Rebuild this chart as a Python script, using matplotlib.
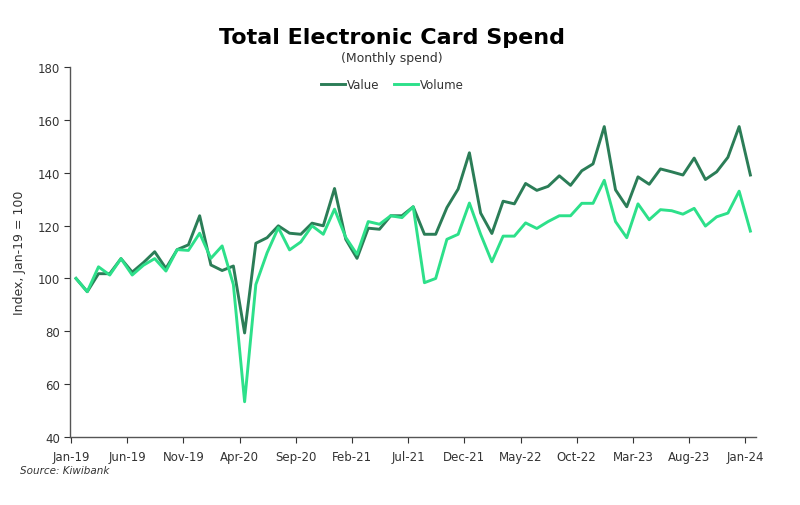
import matplotlib
matplotlib.use('Agg')
import matplotlib.pyplot as plt
import numpy as np

# monthly index, Jan-19 = 100
value = [100, 95, 101.8, 101.8, 107.5, 102.4, 106, 110.1, 103.8, 110.9,
         112.7, 123.7, 105.1, 103, 104.7, 79.4, 113.3, 115.4, 119.9, 117.1,
         116.7, 120.9, 119.9, 134, 114.8, 107.6, 119, 118.6, 123.7, 123.7,
         127.1, 116.7, 116.7, 126.8, 133.8, 147.5, 124.7, 117, 129.2, 128.2,
         135.9, 133.3, 134.8, 138.8, 135.2, 140.7, 143.3, 157.4, 133.5, 127.1,
         138.4, 135.6, 141.4, 140.3, 139.1, 145.5, 137.4, 140.3, 145.8, 157.4,
         139.1]
volume = [100, 95, 104.4, 101.3, 107.5, 101.3, 105, 107.5, 102.8, 110.9,
          110.6, 117.1, 107.6, 112.3, 97.7, 53.4, 97.7, 109.7, 119.2, 110.8,
          113.8, 119.9, 116.7, 126.2, 115.5, 109.1, 121.5, 120.5, 123.7, 123,
          127.1, 98.4, 100, 114.8, 116.7, 128.5, 116.7, 106.3, 116, 116,
          121, 118.9, 121.5, 123.7, 123.7, 128.4, 128.4, 137.1, 121.5, 115.4,
          128.2, 122.2, 126, 125.6, 124.3, 126.5, 119.8, 123.3, 124.7, 133,
          117.9]
tick_labels = ['Jan-19', 'Jun-19', 'Nov-19', 'Apr-20', 'Sep-20', 'Feb-21', 'Jul-21',
               'Dec-21', 'May-22', 'Oct-22', 'Mar-23', 'Aug-23', 'Jan-24']

x = np.arange(len(value))

fig = plt.figure(figsize=(8, 5.06), dpi=100)
ax = fig.add_axes([0.088, 0.134, 0.857, 0.732])

ax.plot(x, value, color='#2b7d57', lw=2.1, label='Value')
ax.plot(x, volume, color='#2de08a', lw=2.1, label='Volume')

ax.set_xlim(-0.5, 60.5)
ax.set_ylim(40, 180)
ax.set_yticks(range(40, 181, 20))
ax.set_xticks(np.arange(0, 61, 5) - 0.45)
ax.set_xticklabels(tick_labels)

for s in ['top', 'right']:
    ax.spines[s].set_visible(False)
for s in ['left', 'bottom']:
    ax.spines[s].set_color('#555555')
    ax.spines[s].set_linewidth(1.0)
ax.tick_params(axis='both', labelsize=8.5, colors='#333333', length=4, width=0.8, direction='out')
ax.tick_params(axis='x', pad=5)
ax.set_ylabel('Index, Jan-19 = 100', fontsize=9, color='#333333', labelpad=8)

fig.text(0.49, 0.925, 'Total Electronic Card Spend', ha='center', va='center',
         fontsize=16, fontweight='bold', color='black')
fig.text(0.49, 0.885, '(Monthly spend)', ha='center', va='center', fontsize=9, color='#333333')

leg = ax.legend(loc='center', bbox_to_anchor=(0.47, 0.951), ncol=2, frameon=False,
                fontsize=8.5, handlelength=2.0, handletextpad=0.2, columnspacing=1.2)
for t in leg.get_texts():
    t.set_color('#333333')

fig.text(0.025, 0.063, 'Source: Kiwibank', fontsize=7.5, style='italic', color='#333333')

fig.savefig('out.png', dpi=100)
